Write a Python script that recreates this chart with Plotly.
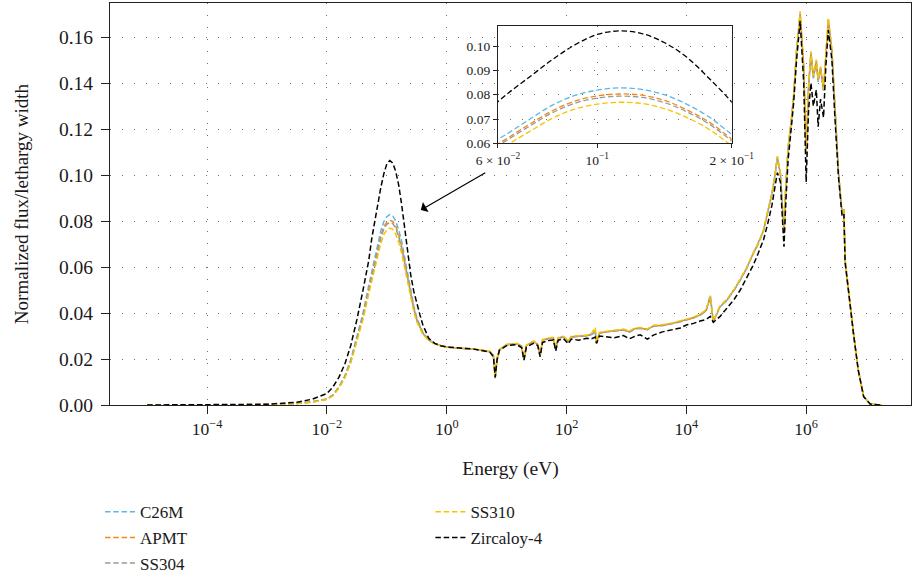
import plotly.graph_objects as go

# ---------------- data ----------------
log10_energy_eV = [
    -5.0, -4.5, -4.0, -3.5, -3.0, -2.5, -2.25,
    -2.0, -1.9, -1.8, -1.7, -1.6, -1.5, -1.4, -1.3, -1.25, -1.2,
    -1.15, -1.1, -1.05, -1.0, -0.95, -0.9, -0.85, -0.8, -0.75, -0.7,
    -0.65, -0.6, -0.55, -0.5, -0.45, -0.4, -0.3, -0.2, -0.1, 0.0,
    0.2, 0.45, 0.72, 0.78, 0.81, 0.84, 0.88, 1.0, 1.17, 1.25,
    1.29, 1.33, 1.45, 1.52, 1.56, 1.6, 1.7, 1.78, 1.82, 1.86,
    1.95, 2.03, 2.08, 2.2, 2.34, 2.42, 2.48, 2.5, 2.55, 2.67,
    2.8, 2.95, 3.05, 3.15, 3.23, 3.35, 3.45, 3.6, 3.78, 3.9,
    4.0, 4.12, 4.23, 4.33, 4.4, 4.45, 4.56, 4.68, 4.8, 4.9,
    5.0, 5.12, 5.2, 5.29, 5.36, 5.43, 5.48, 5.52, 5.57, 5.63,
    5.66, 5.70, 5.75, 5.79, 5.84, 5.90, 5.96, 6.0, 6.04, 6.08,
    6.12, 6.17, 6.20, 6.24, 6.29, 6.33, 6.37, 6.43, 6.48, 6.54,
    6.60, 6.63, 6.65, 6.71, 6.79, 6.87, 6.96, 7.07, 7.15, 7.26,
]

flux_C26M = [
    0.0, 0.0, 0.00001, 0.00005, 0.0002, 0.0007, 0.0014,
    0.0026, 0.0044, 0.0078, 0.0127, 0.0198, 0.0292, 0.0396, 0.0521, 0.0584, 0.0641,
    0.0700, 0.0757, 0.0797, 0.0819, 0.0828, 0.0822, 0.0800, 0.0761, 0.0709, 0.0638,
    0.0567, 0.0488, 0.0432, 0.0380, 0.0345, 0.0317, 0.0284, 0.0268, 0.0258, 0.0252,
    0.0247, 0.0243, 0.0232, 0.0214, 0.0116, 0.0199, 0.0240, 0.0262, 0.0266, 0.0254,
    0.0196, 0.0258, 0.0275, 0.0262, 0.0210, 0.0282, 0.0288, 0.0291, 0.0240, 0.0290,
    0.0296, 0.0275, 0.0296, 0.0297, 0.0301, 0.0306, 0.0316, 0.0270, 0.0313, 0.0318,
    0.0321, 0.0327, 0.0317, 0.0331, 0.0334, 0.0327, 0.0342, 0.0346, 0.0354, 0.0362,
    0.0370, 0.0379, 0.0390, 0.0412, 0.0478, 0.0360, 0.0426, 0.0456, 0.0501, 0.0542,
    0.0592, 0.0658, 0.0702, 0.0758, 0.0842, 0.0918, 0.1002, 0.1072, 0.1003, 0.0744,
    0.0952, 0.1118, 0.1232, 0.1338, 0.1538, 0.1695, 0.1462, 0.1090, 0.1378, 0.1528,
    0.1420, 0.1490, 0.1405, 0.1460, 0.1362, 0.1535, 0.1670, 0.1538, 0.1282, 0.1008,
    0.0835, 0.0851, 0.0632, 0.0487, 0.0313, 0.0153, 0.0036, 0.0004, 0.0001, 0.0,
]

flux_APMT = [
    0.0, 0.0, 0.00001, 0.00005, 0.0002, 0.0007, 0.0013,
    0.0025, 0.0043, 0.0076, 0.0123, 0.0192, 0.0283, 0.0384, 0.0506, 0.0566, 0.0622,
    0.0680, 0.0734, 0.0774, 0.0795, 0.0803, 0.0798, 0.0777, 0.0738, 0.0688, 0.0619,
    0.0551, 0.0475, 0.0422, 0.0373, 0.0340, 0.0313, 0.0283, 0.0267, 0.0258, 0.0252,
    0.0248, 0.0244, 0.0233, 0.0216, 0.0120, 0.0201, 0.0241, 0.0263, 0.0267, 0.0256,
    0.0199, 0.0259, 0.0277, 0.0263, 0.0213, 0.0283, 0.0289, 0.0293, 0.0243, 0.0291,
    0.0297, 0.0277, 0.0297, 0.0298, 0.0301, 0.0309, 0.0322, 0.0273, 0.0313, 0.0319,
    0.0323, 0.0327, 0.0319, 0.0333, 0.0334, 0.0329, 0.0344, 0.0346, 0.0356, 0.0363,
    0.0371, 0.0379, 0.0392, 0.0411, 0.0465, 0.0363, 0.0428, 0.0458, 0.0501, 0.0544,
    0.0591, 0.0661, 0.0701, 0.0761, 0.0841, 0.0921, 0.1001, 0.1078, 0.1006, 0.0748,
    0.0951, 0.1121, 0.1231, 0.1341, 0.1542, 0.1705, 0.1468, 0.1098, 0.1382, 0.1533,
    0.1428, 0.1498, 0.1412, 0.1468, 0.1370, 0.1542, 0.1678, 0.1542, 0.1281, 0.1007,
    0.0834, 0.0850, 0.0631, 0.0486, 0.0312, 0.0152, 0.0036, 0.0004, 0.0001, 0.0,
]

flux_SS304 = [
    0.0, 0.0, 0.00001, 0.00005, 0.0002, 0.0007, 0.0013,
    0.0025, 0.0042, 0.0075, 0.0122, 0.0190, 0.0280, 0.0380, 0.0500, 0.0560, 0.0615,
    0.0672, 0.0726, 0.0765, 0.0786, 0.0794, 0.0789, 0.0768, 0.0730, 0.0680, 0.0612,
    0.0545, 0.0470, 0.0418, 0.0370, 0.0338, 0.0312, 0.0282, 0.0267, 0.0258, 0.0252,
    0.0247, 0.0243, 0.0232, 0.0215, 0.0118, 0.0200, 0.0240, 0.0262, 0.0266, 0.0255,
    0.0198, 0.0258, 0.0276, 0.0262, 0.0212, 0.0282, 0.0288, 0.0292, 0.0242, 0.0290,
    0.0296, 0.0276, 0.0296, 0.0297, 0.0300, 0.0308, 0.0318, 0.0272, 0.0312, 0.0318,
    0.0322, 0.0326, 0.0318, 0.0332, 0.0333, 0.0328, 0.0343, 0.0345, 0.0355, 0.0362,
    0.0370, 0.0378, 0.0391, 0.0410, 0.0470, 0.0362, 0.0427, 0.0457, 0.0500, 0.0543,
    0.0590, 0.0660, 0.0700, 0.0760, 0.0840, 0.0920, 0.1000, 0.1075, 0.1005, 0.0746,
    0.0950, 0.1120, 0.1230, 0.1340, 0.1540, 0.1700, 0.1465, 0.1096, 0.1380, 0.1530,
    0.1425, 0.1495, 0.1410, 0.1465, 0.1368, 0.1540, 0.1675, 0.1540, 0.1280, 0.1007,
    0.0833, 0.0850, 0.0630, 0.0486, 0.0312, 0.0152, 0.0036, 0.0004, 0.0001, 0.0,
]

flux_SS310 = [
    0.0, 0.0, 0.00001, 0.00005, 0.0002, 0.0007, 0.0012,
    0.0024, 0.0040, 0.0072, 0.0118, 0.0184, 0.0271, 0.0368, 0.0484, 0.0542, 0.0595,
    0.0650, 0.0703, 0.0741, 0.0761, 0.0769, 0.0764, 0.0743, 0.0707, 0.0658, 0.0592,
    0.0528, 0.0456, 0.0407, 0.0362, 0.0332, 0.0308, 0.0280, 0.0266, 0.0258, 0.0252,
    0.0248, 0.0244, 0.0233, 0.0216, 0.0120, 0.0202, 0.0242, 0.0264, 0.0268, 0.0257,
    0.0200, 0.0260, 0.0279, 0.0264, 0.0214, 0.0285, 0.0291, 0.0295, 0.0245, 0.0293,
    0.0299, 0.0279, 0.0299, 0.0300, 0.0304, 0.0312, 0.0338, 0.0268, 0.0316, 0.0321,
    0.0326, 0.0330, 0.0322, 0.0336, 0.0337, 0.0331, 0.0347, 0.0349, 0.0358, 0.0366,
    0.0373, 0.0382, 0.0395, 0.0414, 0.0475, 0.0365, 0.0431, 0.0461, 0.0504, 0.0547,
    0.0594, 0.0664, 0.0704, 0.0764, 0.0844, 0.0924, 0.1004, 0.1082, 0.1008, 0.0750,
    0.0955, 0.1125, 0.1235, 0.1345, 0.1545, 0.1712, 0.1470, 0.1100, 0.1386, 0.1538,
    0.1430, 0.1502, 0.1415, 0.1472, 0.1372, 0.1545, 0.1682, 0.1545, 0.1282, 0.1008,
    0.0835, 0.0852, 0.0632, 0.0487, 0.0313, 0.0153, 0.0037, 0.0004, 0.0001, 0.0,
]

flux_Zircaloy4 = [
    0.0, 0.0, 0.00002, 0.0001, 0.0003, 0.0012, 0.0025,
    0.0050, 0.0078, 0.0120, 0.0178, 0.0260, 0.0370, 0.0495, 0.0630, 0.0725, 0.0805,
    0.0875, 0.0945, 0.1005, 0.1048, 0.1063, 0.1052, 0.1015, 0.0955, 0.0868, 0.0772,
    0.0660, 0.0565, 0.0495, 0.0440, 0.0395, 0.0350, 0.0290, 0.0268, 0.0258, 0.0252,
    0.0247, 0.0243, 0.0230, 0.0210, 0.0120, 0.0195, 0.0238, 0.0258, 0.0262, 0.0250,
    0.0195, 0.0252, 0.0268, 0.0258, 0.0210, 0.0272, 0.0280, 0.0283, 0.0235, 0.0282,
    0.0288, 0.0266, 0.0287, 0.0282, 0.0290, 0.0288, 0.0295, 0.0268, 0.0300, 0.0295,
    0.0292, 0.0302, 0.0288, 0.0300, 0.0305, 0.0286, 0.0304, 0.0318, 0.0330, 0.0335,
    0.0348, 0.0355, 0.0365, 0.0372, 0.0385, 0.0360, 0.0384, 0.0420, 0.0460, 0.0500,
    0.0550, 0.0610, 0.0660, 0.0720, 0.0790, 0.0870, 0.0950, 0.1010, 0.0970, 0.0688,
    0.0880, 0.1070, 0.1200, 0.1310, 0.1500, 0.1670, 0.1400, 0.0970, 0.1280, 0.1400,
    0.1300, 0.1370, 0.1210, 0.1330, 0.1250, 0.1480, 0.1630, 0.1500, 0.1250, 0.0990,
    0.0820, 0.0830, 0.0620, 0.0480, 0.0310, 0.0150, 0.0036, 0.0004, 0.0001, 0.0,
]

series_names = ["C26M", "APMT", "SS304", "SS310", "Zircaloy-4"]
series_values = [flux_C26M, flux_APMT, flux_SS304, flux_SS310, flux_Zircaloy4]
series_colors = ["#5BB7E8", "#F28A1A", "#9A9A9A", "#F5C400", "#000000"]
series_legend = ["legend", "legend", "legend", "legend2", "legend2"]

main_xtick_vals = [1e-4, 1e-2, 1e0, 1e2, 1e4, 1e6]
main_xtick_text = ["10<sup>\u22124</sup>", "10<sup>\u22122</sup>", "10<sup>0</sup>",
                   "10<sup>2</sup>", "10<sup>4</sup>", "10<sup>6</sup>"]
main_ytick_vals = [0.0, 0.02, 0.04, 0.06, 0.08, 0.10, 0.12, 0.14, 0.16]
inset_xtick_vals = [0.06, 0.1, 0.2]
inset_xtick_text = ["6 \u00d7 10<sup>\u22122</sup>", "10<sup>\u22121</sup>", "2 \u00d7 10<sup>\u22121</sup>"]
inset_ytick_vals = [0.06, 0.07, 0.08, 0.09, 0.10]

for v in series_values:
    assert len(v) == len(log10_energy_eV), len(v)

energy_eV = [10 ** e for e in log10_energy_eV]

FONT = "Liberation Serif"
DASH = "5.5px,2.8px"

fig = go.Figure()
for name, vals, color, lg in zip(series_names, series_values, series_colors, series_legend):
    fig.add_trace(go.Scatter(
        x=energy_eV, y=vals, mode="lines", name=name,
        line=dict(color=color, width=1.5, dash=DASH),
        legend=lg, legendgroup=name,
    ))
for name, vals, color in zip(series_names, series_values, series_colors):
    fig.add_trace(go.Scatter(
        x=energy_eV, y=vals, mode="lines", name=name, showlegend=False,
        line=dict(color=color, width=1.3, dash=DASH, shape="spline", smoothing=1.0),
        xaxis="x2", yaxis="y2",
    ))

grid_common = dict(showgrid=True, gridcolor="#6f6f6f", gridwidth=1.3, griddash="1.4px,10.6px",
                   zeroline=False, showline=True, linecolor="#222", linewidth=1.2, mirror=True,
                   ticks="outside", tickcolor="#222", tickwidth=1.2, automargin=False)

fig.update_layout(
    width=912, height=582,
    margin=dict(l=110, r=1, t=3, b=177),
    paper_bgcolor="#ffffff", plot_bgcolor="white",
    font=dict(family=FONT, size=17, color="#1a1a1a"),
    xaxis=dict(type="log", range=[-5.62, 7.75], domain=[0, 1],
               tickvals=main_xtick_vals, ticktext=main_xtick_text, ticklen=8,
               tickfont=dict(size=17.5),
               title=dict(text="Energy (eV)", standoff=23, font=dict(size=19.5)),
               **grid_common),
    yaxis=dict(range=[0, 0.1748], domain=[0, 1], tickvals=main_ytick_vals, tickformat=".2f",
               ticklen=8, ticklabelstandoff=4, tickfont=dict(size=19.5),
               title=dict(text="Normalized flux/lethargy width", standoff=25, font=dict(size=19)),
               **grid_common),
    xaxis2=dict(type="log", anchor="y2", domain=[0.4844, 0.7762],
                range=[-1.2218, -0.699], tickvals=inset_xtick_vals, ticktext=inset_xtick_text,
                ticklen=4, tickfont=dict(size=13.5), **grid_common),
    yaxis2=dict(anchor="x2", domain=[0.651, 0.9428], range=[0.06, 0.1083],
                tickvals=inset_ytick_vals, tickformat=".2f", ticklen=4,
                tickfont=dict(size=13.5), **grid_common),
    legend=dict(x=-0.0125, y=-0.222, xanchor="left", yanchor="top",
                bgcolor="rgba(0,0,0,0)", font=dict(size=17), tracegroupgap=0.5,
                traceorder="grouped"),
    legend2=dict(x=0.4, y=-0.222, xanchor="left", yanchor="top",
                 bgcolor="rgba(0,0,0,0)", font=dict(size=17), tracegroupgap=0.5,
                 traceorder="grouped"),
    showlegend=True,
)

fig.add_annotation(x=-0.432, y=0.0848, xref="x", yref="y", ax=66, ay=-38,
                   axref="pixel", ayref="pixel", text="", showarrow=True,
                   arrowhead=1, arrowsize=1.6, arrowwidth=1.2, arrowcolor="black")

fig.write_html(
    "out.html",
    config={"displayModeBar": False},
    post_script="document.body.style.margin='0px';document.body.style.overflow='hidden';",
)
